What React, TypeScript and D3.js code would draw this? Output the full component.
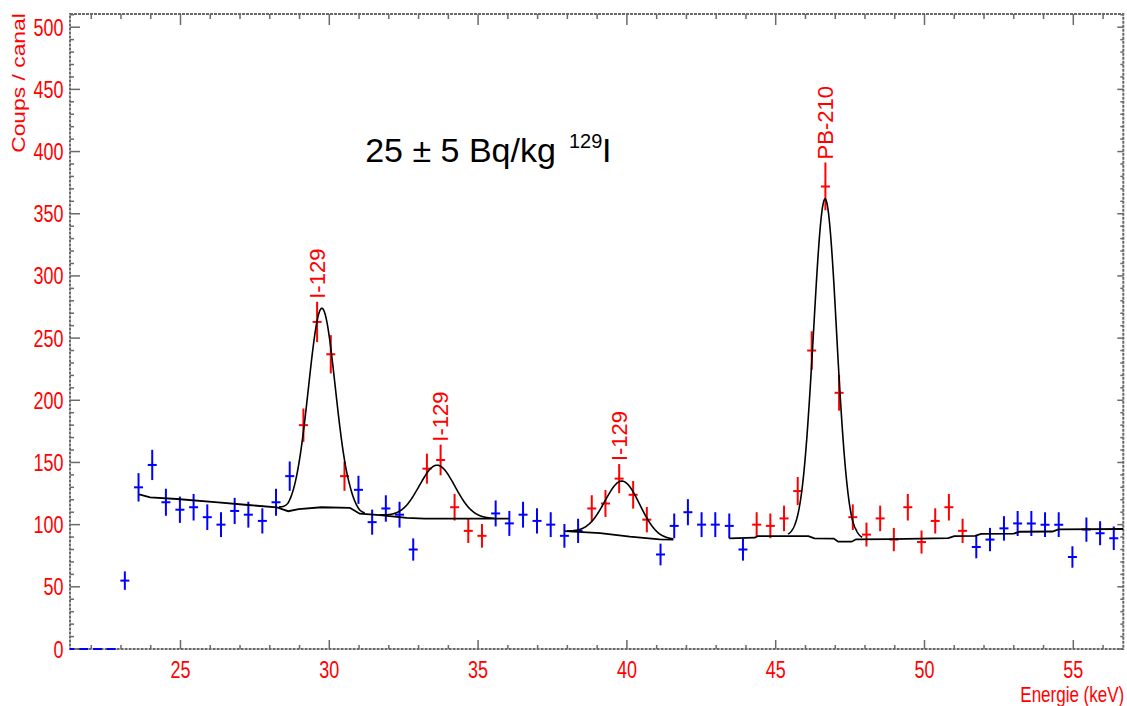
import React from "react";
import * as d3 from "d3";

// ---- data ----
const energies = [
  21.28, 21.75, 22.21, 22.67,
  23.13, 23.59, 24.05, 24.51, 24.98, 25.44, 25.90, 26.36, 26.82, 27.28,
  27.75, 28.21, 28.67, 29.13, 29.59, 30.05, 30.51, 30.98, 31.44, 31.90,
  32.36, 32.82, 33.28, 33.74, 34.21, 34.67, 35.13, 35.59, 36.05, 36.51,
  36.98, 37.44, 37.90, 38.36, 38.82, 39.28, 39.74, 40.21, 40.67, 41.13,
  41.59, 42.05, 42.51, 42.97, 43.44, 43.90, 44.36, 44.82, 45.28, 45.74,
  46.21, 46.67, 47.13, 47.59, 48.05, 48.51, 48.97, 49.44, 49.90, 50.36,
  50.82, 51.28, 51.74, 52.20, 52.67, 53.13, 53.59, 54.05, 54.51, 54.97,
  55.44, 55.90, 56.36, 56.82,
];
const counts = [
  0, 0, 0, 0,
  55, 130, 148, 118, 112, 114, 106, 100, 111, 108,
  103, 118, 139, 180, 263, 237, 139, 128, 102, 113,
  108, 80, 145, 152, 114, 95, 91, 109, 101, 108,
  103, 100, 91, 95, 113, 117, 137, 124, 104, 76,
  99, 110, 100, 100, 99, 80, 100, 99, 105, 127,
  240, 372, 206, 106, 92, 105, 88, 114, 86, 103,
  114, 95, 82, 88, 97, 101, 101, 100, 100, 74,
  96, 93, 89, 93,
];

// regions of interest (channels drawn in red)
const roiLo = [29.0, 33.1, 38.6, 44.1];
const roiHi = [30.7, 35.3, 40.9, 51.5];

// background segments (energy, counts)
const bgAE = [23.61, 23.98, 24.88, 26.26, 27.27, 28.24, 28.62, 28.97, 29.74, 30.69, 31.02, 31.7, 32.6, 33.2, 36.03];
const bgAV = [124.3, 121.9, 120.6, 117.9, 115.8, 113.9, 110.8, 112.5, 114, 113.5, 108.8, 107.7, 105.5, 104.8, 104.8];
const bgBE = [37.92, 39.1, 40.1, 41.1, 41.56];
const bgBV = [94.8, 93.1, 90.3, 88.2, 88.0];
const bgCE = [43.44, 44.3, 44.4, 46.1, 46.3, 46.95, 47.1, 47.55, 47.7, 48.9, 50.8, 51.0, 51.7, 51.9, 53.0, 53.2, 54.3, 54.5, 56.7];
const bgCV = [89, 89.5, 90.8, 90.8, 89, 88.8, 86.3, 86.3, 88.2, 88.4, 89.2, 90.8, 91, 92.5, 92.7, 94.3, 94.5, 96.2, 96.5];

// fitted peaks
const peakCenter = [29.75, 33.62, 39.85, 46.66];
const peakSigma = [0.45, 0.6, 0.58, 0.39];
const peakAmp = [160, 43, 44, 273];
const peakBgSeg = [0, 0, 1, 2];
const peakLabels = ["I-129", "I-129", "I-129", "PB-210"];
const peakLabelChannel = [29.59, 33.74, 39.74, 46.67];

const xTickLabels = [25, 30, 35, 40, 45, 50, 55];
const yTickLabels = [0, 50, 100, 150, 200, 250, 300, 350, 400, 450, 500];

const RED = "#ff0000";
const BLUE = "#0000ff";
const AXIS = "#6a6a6a";
const FONT = "'Liberation Sans', Arial, Helvetica, sans-serif";

export default function App() {
  const W = 1127, H = 706;
  const L = 70, R = 1123.3, T = 14, B = 649;
  const x = d3.scaleLinear().domain([21.287, 56.68]).range([L, R]);
  const y = d3.scaleLinear().domain([0, 500]).range([B, 27.2]);

  const segs = [
    { e: bgAE, v: bgAV },
    { e: bgBE, v: bgBV },
    { e: bgCE, v: bgCV },
  ];
  const bgLine = d3.line<[number, number]>().x((d) => x(d[0])).y((d) => y(d[1]));

  const xMinor = d3.range(22, 57, 1);
  const yMinor = d3.range(0, 511, 10);

  const fitPaths = peakCenter.map((c, k) => {
    const s = segs[peakBgSeg[k]];
    const base = d3.scaleLinear().domain(s.e).range(s.v).clamp(true);
    const lo = Math.max(c - 3.2 * peakSigma[k], s.e[0]);
    const hi = Math.min(c + 3.2 * peakSigma[k], s.e[s.e.length - 1]);
    const pts: [number, number][] = d3.range(lo, hi, 0.01).concat([hi]).map((e) => [
      e,
      base(e) + peakAmp[k] * Math.exp(-((e - c) * (e - c)) / (2 * peakSigma[k] * peakSigma[k])),
    ]);
    return bgLine(pts) || "";
  });

  const inRoi = (e: number) => roiLo.some((lo, k) => e >= lo && e <= roiHi[k]);

  return (
    <svg width={W} height={H} style={{ position: "absolute", left: 0, top: 0, background: "#fff" }}
      fontFamily={FONT}>
      <defs>
        <clipPath id="plot">
          <rect x={L} y={T} width={R - L} height={B - T + 2} />
        </clipPath>
      </defs>
      <rect x={0} y={0} width={W} height={H} fill="#fff" />

      {/* ticks */}
      <g stroke={AXIS} strokeWidth={1.5}>
        {xMinor.map((t) => {
          const major = t % 5 === 0;
          return (
            <g key={"xt" + t}>
              <line x1={x(t)} x2={x(t)} y1={B} y2={B - (major ? 9 : 4)} />
              <line x1={x(t)} x2={x(t)} y1={T} y2={T + (major ? 11 : 5)} />
            </g>
          );
        })}
        {yMinor.map((t) => {
          const major = t % 50 === 0;
          return (
            <g key={"yt" + t}>
              <line x1={L} x2={L + (major ? 10 : 4)} y1={y(t)} y2={y(t)} />
              <line x1={R} x2={R - (major ? 6 : 3)} y1={y(t)} y2={y(t)} />
            </g>
          );
        })}
      </g>
      {/* frame */}
      <rect x={L} y={T} width={R - L} height={B - T} fill="none" stroke={AXIS}
        strokeWidth={2} strokeDasharray="3 1" />

      <g clipPath="url(#plot)">
        {/* data points */}
        {energies.map((e, i) => {
          const v = counts[i];
          const err = Math.sqrt(v);
          const cx = x(e);
          const col = inRoi(e) ? RED : BLUE;
          return (
            <g key={"p" + i} stroke={col} strokeWidth={2}>
              {v > 0 && <line x1={cx} x2={cx} y1={y(v - err)} y2={y(v + err)} />}
              <line x1={cx - 4.5} x2={cx + 4.5} y1={y(v)} y2={y(v)} />
            </g>
          );
        })}
        {/* background lines */}
        {segs.map((s, k) => (
          <path key={"bg" + k} d={bgLine(s.e.map((e, j) => [e, s.v[j]] as [number, number])) || ""}
            fill="none" stroke="#000" strokeWidth={1.8} />
        ))}
        {/* fit curves */}
        {fitPaths.map((d, k) => (
          <path key={"fit" + k} d={d} fill="none" stroke="#000" strokeWidth={1.6} />
        ))}
      </g>

      {/* peak labels */}
      {peakLabels.map((lab, k) => {
        const idx = energies.indexOf(peakLabelChannel[k]);
        const v = counts[idx];
        const px = x(peakLabelChannel[k]);
        const py = y(v + Math.sqrt(v)) - 3;
        return (
          <text key={"lab" + k} transform={`translate(${px + 7.8},${py}) rotate(-90)`}
            fontSize={22} fill={RED}>{lab}</text>
        );
      })}

      {/* tick labels */}
      {xTickLabels.map((t) => (
        <text key={"xl" + t} transform={`translate(${x(t)},678.3) scale(1,1.32)`}
          textAnchor="middle" fontSize={18} fill={RED}>{t}</text>
      ))}
      {yTickLabels.map((t) => (
        <text key={"yl" + t} transform={`translate(63.5,${y(t) + 8.5}) scale(1,1.32)`}
          textAnchor="end" fontSize={18} fill={RED}>{t}</text>
      ))}

      {/* axis titles */}
      <text transform="translate(24.5,83) rotate(-90) scale(1.27,1)" textAnchor="middle"
        fontSize={18} fill={RED}>Coups / canal</text>
      <text transform="translate(1020.3,701.7) scale(1,1.3)" fontSize={17} fill={RED}>Energie (keV)</text>

      {/* annotation */}
      <text fontSize={34} fill="#000">
        <tspan x={365.2} y={161.7}>25 ± 5 Bq/kg</tspan>
        <tspan x={569} y={148.3} fontSize={20}>129</tspan>
        <tspan x={602} y={161.7}>I</tspan>
      </text>
    </svg>
  );
}
